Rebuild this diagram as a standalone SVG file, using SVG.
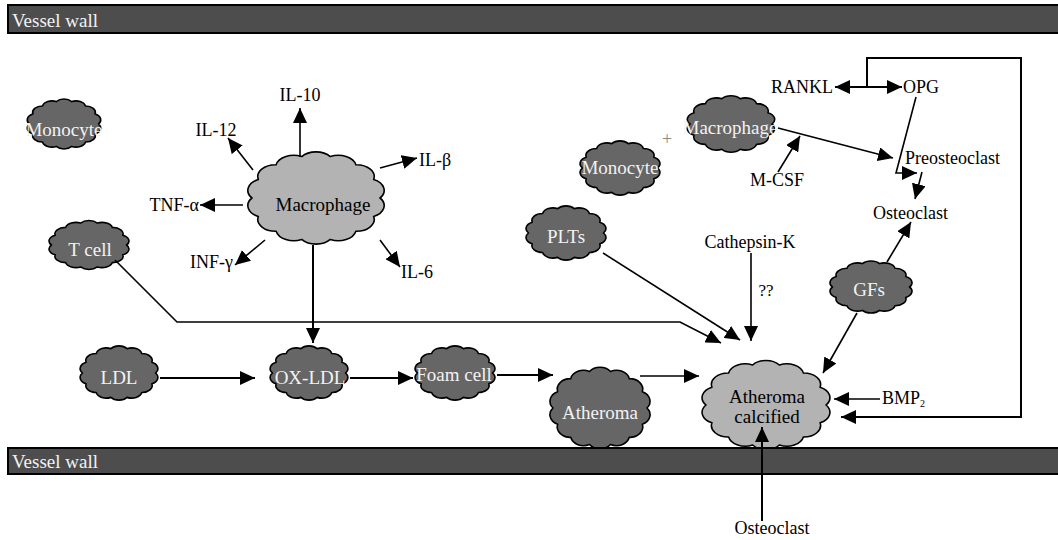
<svg xmlns="http://www.w3.org/2000/svg" width="1058" height="540" viewBox="0 0 1058 540" font-family="'Liberation Serif', 'DejaVu Serif', 'Times New Roman', serif">
<style>
  text { font-family: "Liberation Serif", "DejaVu Serif", "Times New Roman", serif; }
  .lbl { font-size: 18px; fill: #000; }
  .wl { font-size: 19px; fill: #f2f2f2; }
  .bl { font-size: 19px; fill: #000; }
  .wall { fill: #4d4d4d; stroke: #000; stroke-width: 2; }
  .dk { fill: #666666; }
  .lt { fill: #b3b3b3; }
  #cloudShape { stroke: #000; stroke-width: 1.6; vector-effect: non-scaling-stroke; stroke-linejoin: round; }
  .c { fill: none; stroke: #000; stroke-width: 1.6; }
  .c2 { fill: none; stroke: #000; stroke-width: 2; }
  .arr { marker-end: url(#ah); }
</style>
<defs>
  <path id="cloudShape" d="M1,0 A0.28,0.28 0 0 1 0.901,0.434 A0.28,0.28 0 0 1 0.623,0.782 A0.28,0.28 0 0 1 0.223,0.975 A0.28,0.28 0 0 1 -0.223,0.975 A0.28,0.28 0 0 1 -0.623,0.782 A0.28,0.28 0 0 1 -0.901,0.434 A0.28,0.28 0 0 1 -1,0 A0.28,0.28 0 0 1 -0.901,-0.434 A0.28,0.28 0 0 1 -0.623,-0.782 A0.28,0.28 0 0 1 -0.223,-0.975 A0.28,0.28 0 0 1 0.223,-0.975 A0.28,0.28 0 0 1 0.623,-0.782 A0.28,0.28 0 0 1 0.901,-0.434 A0.28,0.28 0 0 1 1,0 Z"/>
  <marker id="ah" viewBox="0 0 15 14" refX="15" refY="7" markerWidth="15" markerHeight="14" markerUnits="userSpaceOnUse" orient="auto-start-reverse">
    <path d="M0,0 L15,7 L0,14 z" fill="#000"/>
  </marker>
</defs>

<rect width="1058" height="540" fill="#fff"/>

<g id="monocyte-left">
  <use href="#cloudShape" class="dk" transform="translate(64,124) scale(34.5,23)"/>
  <text class="wl" x="64" y="136" text-anchor="middle">Monocyte</text>
</g>
<g id="macrophage-left">
  <use href="#cloudShape" class="lt" transform="translate(316,198) scale(64,42.5)"/>
  <text class="bl" x="323" y="211" text-anchor="middle">Macrophage</text>
</g>
<g id="tcell">
  <use href="#cloudShape" class="dk" transform="translate(89,245) scale(37.5,22.5)"/>
  <text class="wl" x="90" y="256" text-anchor="middle">T cell</text>
</g>
<g id="ldl">
  <use href="#cloudShape" class="dk" transform="translate(119,373) scale(36.5,25)"/>
  <text class="wl" x="119" y="384" text-anchor="middle">LDL</text>
</g>
<g id="oxldl">
  <use href="#cloudShape" class="dk" transform="translate(309,373) scale(36.5,25)"/>
  <text class="wl" x="310" y="384" text-anchor="middle">OX-LDL</text>
</g>
<g id="foamcell">
  <use href="#cloudShape" class="dk" transform="translate(455,373) scale(37.5,25)"/>
  <text class="wl" x="454" y="381" text-anchor="middle">Foam cell</text>
</g>
<g id="atheroma">
  <use href="#cloudShape" class="dk" transform="translate(600,408) scale(47,37.5)"/>
  <text class="wl" x="600" y="419" text-anchor="middle">Atheroma</text>
</g>
<g id="atheroma-calcified">
  <use href="#cloudShape" class="lt" transform="translate(766,405) scale(60,41)"/>
  <text class="bl" x="767" y="403" text-anchor="middle">Atheroma</text>
  <text class="bl" x="767" y="423" text-anchor="middle">calcified</text>
</g>
<g id="monocyte-right">
  <use href="#cloudShape" class="dk" transform="translate(620,168) scale(37.5,25)"/>
  <text class="wl" x="620" y="174" text-anchor="middle">Monocyte</text>
</g>
<g id="macrophage-right">
  <use href="#cloudShape" class="dk" transform="translate(731,124) scale(41,26)"/>
  <text class="wl" x="730" y="134" text-anchor="middle">Macrophage</text>
</g>
<g id="plts">
  <use href="#cloudShape" class="dk" transform="translate(566,233) scale(37.5,25)"/>
  <text class="wl" x="566" y="243" text-anchor="middle">PLTs</text>
</g>
<g id="gfs">
  <use href="#cloudShape" class="dk" transform="translate(871,287) scale(38.5,24)"/>
  <text class="wl" x="869" y="296" text-anchor="middle">GFs</text>
</g>

<g id="vessel-wall-top">
  <rect class="wall" x="8" y="5" width="1060" height="28"/>
  <text class="wl" x="12" y="27">Vessel wall</text>
</g>
<g id="vessel-wall-bottom">
  <rect class="wall" x="8" y="448" width="1060" height="26"/>
  <text class="wl" x="12" y="468">Vessel wall</text>
</g>

<g id="labels">
  <text class="lbl" x="300" y="101" text-anchor="middle">IL-10</text>
  <text class="lbl" x="216" y="136" text-anchor="middle">IL-12</text>
  <text class="lbl" x="419" y="166">IL-β</text>
  <text class="lbl" x="199" y="211" text-anchor="end">TNF-α</text>
  <text class="lbl" x="233" y="268" text-anchor="end">INF-γ</text>
  <text class="lbl" x="401" y="278">IL-6</text>
  <text class="lbl" x="833" y="93" text-anchor="end">RANKL</text>
  <text class="lbl" x="903" y="93">OPG</text>
  <text x="667" y="145" text-anchor="middle" style="font-size:18px;fill:#888">+</text>
  <text class="lbl" x="777" y="186" text-anchor="middle">M-CSF</text>
  <text class="lbl" x="905" y="164">Preosteoclast</text>
  <text class="lbl" x="873" y="219">Osteoclast</text>
  <text class="lbl" x="750" y="248" text-anchor="middle">Cathepsin-K</text>
  <text x="766" y="296" text-anchor="middle" style="font-size:17px;fill:#000">??</text>
  <text class="lbl" x="882" y="404">BMP<tspan style="font-size:10px" dy="3">2</tspan></text>
  <text class="lbl" x="772" y="534" text-anchor="middle">Osteoclast</text>
</g>

<g id="connectors">
  <path class="c arr" d="M300,157 L300,108"/>
  <path class="c arr" d="M253,170 L228,138"/>
  <path class="c arr" d="M380,168 L417,158"/>
  <path class="c arr" d="M243,205 L200,205"/>
  <path class="c arr" d="M265,240 L235,265"/>
  <path class="c arr" d="M380,240 L400,267"/>
  <path class="c2 arr" d="M313,245 L313,343"/>
  <path class="c arr" d="M115,260 L177,322 L680,322 L721,343"/>
  <path class="c arr" d="M603,253 L740,340"/>
  <path class="c arr" d="M751,253 L751,341"/>
  <path class="c2 arr" d="M160,378 L255,378"/>
  <path class="c2 arr" d="M350,378 L413,378"/>
  <path class="c2 arr" d="M497,375 L553,375"/>
  <path class="c arr" d="M640,376 L699,376"/>
  <path class="c arr" d="M857,313 L823,373"/>
  <path class="c arr" d="M887,262 L911,222"/>
  <path class="c arr" d="M880,399 L834,399"/>
  <path class="c2 arr" d="M867,87 L867,58 L1021,58 L1021,417 L841,417"/>
  <path class="c2 arr" d="M762,521 L762,427"/>
  <path class="c2 arr" d="M835,87 L902,87" style="marker-start:url(#ah)"/>
  <path class="c arr" d="M778,172 L800,136"/>
  <path class="c arr" d="M778,128 L893,158"/>
  <path class="c arr" d="M916,97 L896,173 L917,173"/>
  <path class="c arr" d="M922,172 L915,199"/>
</g>
</svg>
